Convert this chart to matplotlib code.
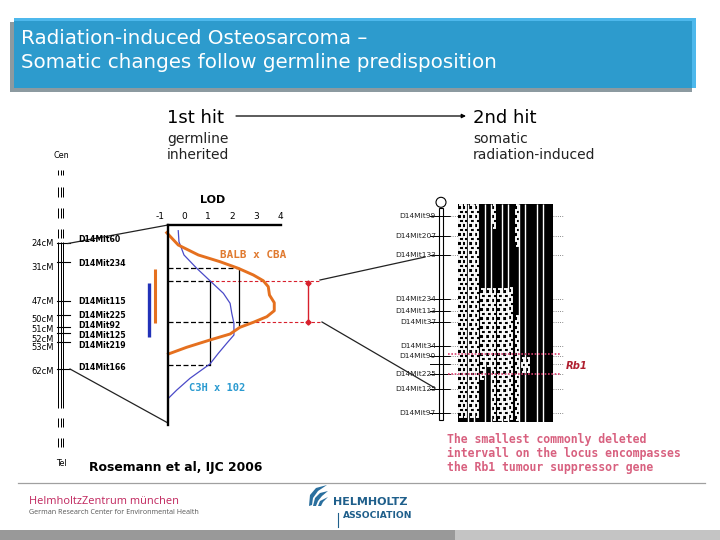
import matplotlib
matplotlib.use("Agg")
import matplotlib.pyplot as plt
from matplotlib.patches import Rectangle, Circle, Polygon

plt.rcParams["font.family"] = ["DejaVu Sans"]
plt.rcParams["axes.unicode_minus"] = False

# LOD curves: score against row on the map
lod_ticks = [-1, 0, 1, 2, 3, 4]
balb_lod = [-0.72, -0.24, 0.6, 1.5, 2.26, 2.89, 3.3, 3.51, 3.56, 3.76, 3.76, 3.45, 2.89, 2.33, 1.92, 1.08, 0.11, -0.65]
balb_pos = [232.7, 245, 255, 261.7, 268.3, 275, 280.7, 286.7, 295, 302.7, 310.7, 316.7, 322.3, 327.3, 334, 340, 347.3, 354]
c3h_lod = [-0.24, -0.21, 0, 0.53, 1.08, 1.64, 1.92, 1.99, 2.08, 2.08, 1.78, 1.43, 1.08, 0.25, -0.3, -0.65]
c3h_pos = [230.7, 241.7, 255, 268.3, 280.7, 293.3, 303.3, 313.3, 323.3, 335, 343.3, 353.3, 364, 378.3, 390, 398.3]

# left chromosome
cm_labels = ["24cM", "31cM", "47cM", "50cM", "51cM", "52cM", "53cM", "62cM"]
cm_label_rows = [244, 267, 301, 319, 330, 339, 348, 371]
left_markers = ["D14Mit60", "D14Mit234", "D14Mit115", "D14Mit225", "D14Mit92", "D14Mit125", "D14Mit219", "D14Mit166"]
left_marker_rows = [243, 262, 301, 315, 327, 333, 342, 369]
left_label_rows = [240, 263, 301, 316, 326, 335, 346, 367]
chrom_segments = [(170, 175), (187, 197), (208, 218), (229, 238), (242, 408), (418, 427), (438, 447)]

# right chromosome
right_markers = ["D14Mit99", "D14Mit207", "D14Mit133", "D14Mit234", "D14Mit113", "D14Mit37", "D14Mit34", "D14Mit90", "", "D14Mit225", "D14Mit125", "D14Mit97"]
right_rows = [216, 236, 255, 299, 311, 322, 346, 356, 364, 374, 389, 413]

# haplotype columns: centre and the stretches that are retained
col_x = [460.3, 465, 471.3, 477, 482.3, 488.3, 494, 499.3, 505.3, 511, 516.7, 522.7, 528]
col_spans = [[(204, 421)], [(204, 421)], [(204, 421)], [(204, 421)], [(288, 380)], [(288, 370)],
             [(204, 232), (288, 421)], [(288, 421)], [(288, 421)], [(287, 421)],
             [(204, 250), (315, 421)], [(357, 372)], [(357, 372)]]
separators = [467.7, 474, 485, 491, 502, 508.3, 519.3, 525.3, 536.7, 542.7]

fig = plt.figure(figsize=(7.2, 5.4), dpi=100)
ax = fig.add_axes([0, 0, 1, 1])
ax.set_xlim(0, 720)
ax.set_ylim(540, 0)
ax.axis("off")

# header band
ax.add_patch(Rectangle((10, 22), 682, 70, color="#8c9aa0", lw=0))
ax.add_patch(Rectangle((14, 18), 682, 70, color="#4db8ec", lw=0))
ax.add_patch(Rectangle((14, 21), 678, 67, color="#2d9bcd", lw=0))
ax.text(21, 38, "Radiation-induced Osteosarcoma –", color="white", fontsize=14.3, va="center")
ax.text(21, 62, "Somatic changes follow germline predisposition", color="white", fontsize=14.3, va="center")

# hit headings
ax.text(167, 118, "1st hit", fontsize=13, va="center")
ax.text(473, 118, "2nd hit", fontsize=13, va="center")
ax.text(167, 139, "germline", fontsize=10, va="center", color="#222222")
ax.text(167, 155, "inherited", fontsize=10, va="center", color="#222222")
ax.text(473, 139, "somatic", fontsize=10, va="center", color="#222222")
ax.text(473, 155, "radiation-induced", fontsize=10, va="center", color="#222222")
ax.annotate("", xy=(466, 116), xytext=(236, 116),
            arrowprops=dict(arrowstyle="-|>", lw=0.9, color="black", mutation_scale=6, shrinkA=0, shrinkB=0))

# left chromosome
ax.text(61, 156, "Cen", fontsize=5.8, ha="center", va="center")
ax.text(61, 464, "Tel", fontsize=5.8, ha="center", va="center")
for top, bottom in chrom_segments:
    for x in (58.2, 60.7, 63.2):
        ax.plot([x, x], [top, bottom], color="black", lw=0.72, solid_capstyle="butt")
for row in left_marker_rows:
    ax.plot([57, 70], [row, row], color="black", lw=0.8)
for name, row in zip(cm_labels, cm_label_rows):
    ax.text(54, row, name, fontsize=6, ha="right", va="center")
for name, row in zip(left_markers, left_label_rows):
    ax.text(78, row, name, fontsize=5.6, fontweight="bold", va="center")

# zoom lines
ax.plot([68, 168], [243.5, 225], color="#222222", lw=0.9)
ax.plot([70, 168], [369, 423], color="#222222", lw=0.9)
ax.plot([320, 425], [280, 257], color="#222222", lw=0.9)
ax.plot([322, 435], [322, 388], color="#222222", lw=0.9)

# QTL bars and interval lines
ax.plot([155, 155], [269, 323], color="#e5701f", lw=2.2, solid_capstyle="butt")
ax.plot([148.5, 148.5], [283, 337], color="#2232b8", lw=2.4, solid_capstyle="butt")
ax.plot([168, 238], [268.3, 268.3], color="black", lw=0.9, ls=(0, (4, 2)))
ax.plot([168, 210], [280.7, 280.7], color="black", lw=0.9, ls=(0, (4, 2)))
ax.plot([168, 250], [322.3, 322.3], color="black", lw=0.9, ls=(0, (4, 2)))
ax.plot([168, 210], [364.5, 364.5], color="black", lw=0.9, ls=(0, (4, 2)))
ax.plot([210, 320], [280.7, 280.7], color="#d8202c", lw=0.8, ls=(0, (3, 2)))
ax.plot([250, 320], [322.3, 322.3], color="#d8202c", lw=0.8, ls=(0, (3, 2)))
ax.plot([238.7, 238.7], [268.3, 325], color="black", lw=0.9)
ax.plot([209.5, 209.5], [280.7, 364.5], color="black", lw=0.9)
ax.plot([308, 308], [283, 322], color="#d8202c", lw=1, marker="D", ms=2.6, markevery=[0, 1])

# LOD panel
lod_ax = fig.add_axes([157 / 720, 1 - 425 / 540, 123.5 / 720, 200 / 540])
lod_ax.patch.set_alpha(0)
lod_ax.set_xlim(-1.125, 4.02)
lod_ax.set_ylim(425, 225)
lod_ax.plot(c3h_lod, c3h_pos, color="#4a4ac8", lw=0.9, clip_on=False)
lod_ax.plot(balb_lod, balb_pos, color="#e5701f", lw=2.1, clip_on=False)
lod_ax.xaxis.tick_top()
lod_ax.set_xticks(lod_ticks)
lod_ax.tick_params(axis="x", length=0, labelsize=6.5, pad=3)
lod_ax.set_yticks([])
for side in ("right", "bottom"):
    lod_ax.spines[side].set_visible(False)
lod_ax.spines["top"].set_bounds(-0.667, 4.02)
lod_ax.spines["top"].set_linewidth(1.7)
lod_ax.spines["left"].set_position(("data", -0.667))
lod_ax.spines["left"].set_linewidth(1.7)
ax.text(213, 200, "LOD", fontsize=8, fontweight="bold", ha="center", va="center")
ax.text(220, 255.5, "BALB x CBA", fontsize=7.9, fontweight="bold", family="DejaVu Sans Mono", color="#e07a30", va="center")
ax.text(189, 388, "C3H x 102", fontsize=7.5, fontweight="bold", family="DejaVu Sans Mono", color="#2a9ad0", va="center")
ax.text(89, 467, "Rosemann et al, IJC 2006", fontsize=8.9, fontweight="bold", va="center")

# right chromosome
ax.add_patch(Rectangle((439.3, 208), 3.4, 212, fc="white", ec="black", lw=0.8))
ax.add_patch(Circle((441, 202.3), 5, fc="white", ec="black", lw=0.8))

# haplotype block
ax.add_patch(Rectangle((458, 204), 95, 217.5, color="black", lw=0))
for x in separators:
    ax.plot([x, x], [204, 421.5], color="white", lw=1.0, solid_capstyle="butt")
for x, spans in zip(col_x, col_spans):
    for top, bottom in spans:
        xs, ys = [], []
        y = top + 1
        side = -1
        while y < bottom:
            xs += [x + side * 1.2, x - side * 1.2]
            ys += [y, y]
            y += 4.5
            side = -side
        ax.plot(xs, ys, color="white", lw=1.35, solid_capstyle="butt", solid_joinstyle="miter")

for name, row in zip(right_markers, right_rows):
    ax.plot([430, 450], [row, row], color="black", lw=0.7)
    ax.plot([450, 458], [row, row], color="#666666", lw=0.6, ls=":")
    ax.plot([553, 563], [row, row], color="#666666", lw=0.6, ls=":")
    ax.text(436, row, name, fontsize=5.4, ha="right", va="center", color="#222222")

# deleted interval
ax.plot([448, 561], [354, 354], color="#d84070", lw=1.2, ls=(0, (1, 1)))
ax.plot([448, 561], [374, 374], color="#d84070", lw=1.2, ls=(0, (1, 1)))
ax.text(566, 366, "Rb1", fontsize=7.2, fontweight="bold", style="italic", color="#b02030", va="center")
note_lines = ["The smallest commonly deleted", "intervall on the locus encompasses", "the Rb1 tumour suppressor gene"]
for line, row in zip(note_lines, [439, 453, 468]):
    ax.text(447, row, line, fontsize=8.3, fontweight="bold", family="DejaVu Sans Mono", color="#d8607f", va="center")

# footer
ax.plot([18, 705], [483, 483], color="#a0a0a0", lw=0.9)
ax.add_patch(Rectangle((0, 530), 455, 10, color="#999999", lw=0))
ax.add_patch(Rectangle((455, 530), 265, 10, color="#c4c4c4", lw=0))
ax.text(29, 502, "HelmholtzZentrum münchen", fontsize=7.9, color="#c0245c", va="center", family="Open Sans")
ax.text(29, 512, "German Research Center for Environmental Health", fontsize=5.1, color="#555555", va="center", family="Open Sans")
ax.add_patch(Polygon([(309, 506), (310, 495), (316, 488), (327, 485), (318, 491), (313, 498), (312, 505)], color="#2a6f9e", lw=0))
ax.add_patch(Polygon([(313, 506), (315, 498), (320, 493), (328, 491), (322, 496), (318, 501), (316, 506)], color="#2a6f9e", lw=0))
ax.add_patch(Polygon([(318, 506), (320, 501), (328, 497), (323, 502), (321, 506)], color="#2a6f9e", lw=0))
ax.text(333, 502, "HELMHOLTZ", fontsize=8, fontweight="bold", color="#1f5f8b", va="center")
ax.text(343, 516, "ASSOCIATION", fontsize=6.6, fontweight="bold", color="#1f5f8b", va="center")
ax.plot([337.5, 337.5], [513, 527], color="#1f5f8b", lw=0.8)

fig.savefig("out.png", dpi=100)
